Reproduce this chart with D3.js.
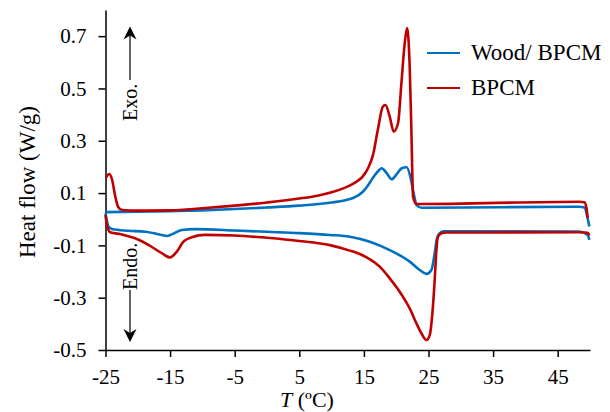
<!DOCTYPE html>
<html>
<head>
<meta charset="utf-8">
<script src="https://cdn.jsdelivr.net/npm/d3@7"></script>
<style>
  body { margin: 0; background: #fff; }
  svg { font-family: "Liberation Serif", "Times New Roman", serif; }
</style>
</head>
<body>
<div id="chart"></div>
<script>
// DSC curves: [T (ºC), heat flow (W/g)]
let woodCool = [
  [-25, 0.027], [-20, 0.029], [-15, 0.031], [-10, 0.034], [-5, 0.039], [0, 0.045],
  [5, 0.052], [8, 0.058], [10, 0.064], [12, 0.072], [13.5, 0.083], [14.8, 0.104],
  [15.6, 0.128], [16.3, 0.155], [17.0, 0.178], [17.76, 0.195], [18.53, 0.176],
  [19.3, 0.153], [20.07, 0.172], [20.85, 0.195], [21.62, 0.199], [22.19, 0.163],
  [22.7, 0.099], [23.17, 0.054], [23.94, 0.044], [48.36, 0.048], [49.13, 0.045],
  [49.64, 0.004], [49.9, -0.028]
]
let woodHeat = [
  [-25, 0.022], [-24.54, -0.028], [-24.01, -0.037], [-21.45, -0.044], [-18.86, -0.048],
  [-16.28, -0.06], [-15.51, -0.064], [-14.74, -0.058], [-13.19, -0.041], [-11.14, -0.038],
  [-5, -0.043], [0, -0.048], [5, -0.053], [9.73, -0.06], [12.82, -0.067], [15.91, -0.086],
  [19.0, -0.118], [22.09, -0.162], [23.64, -0.194], [24.68, -0.209], [25.45, -0.194],
  [25.96, -0.13], [26.31, -0.073], [26.73, -0.054], [27.24, -0.046],
  [48.36, -0.047], [49.64, -0.06], [49.9, -0.079]
]
let bpcmCool = [
  [-24.94, 0.158], [-24.43, 0.173], [-23.97, 0.15], [-23.5, 0.089], [-23.04, 0.047],
  [-22.42, 0.035], [-20, 0.033], [-15, 0.034], [-10, 0.042], [-5, 0.052], [0, 0.064],
  [5, 0.079], [8, 0.091], [10, 0.103], [12, 0.12], [13.5, 0.138], [14.8, 0.163],
  [15.7, 0.198], [16.4, 0.245], [17.15, 0.341], [17.92, 0.43], [18.34, 0.437],
  [19.0, 0.392], [19.62, 0.335], [20.29, 0.368], [20.81, 0.521], [21.32, 0.673],
  [21.68, 0.731], [22.09, 0.583], [22.36, 0.33], [22.61, 0.086], [23.13, 0.058],
  [48.36, 0.067], [49.13, 0.065], [49.44, 0.045], [49.64, 0.004]
]
let bpcmHeat = [
  [-25, 0.016], [-24.78, -0.022], [-24.27, -0.05], [-22.47, -0.058], [-20.41, -0.073],
  [-18.35, -0.098], [-16.28, -0.13], [-15.0, -0.146], [-13.96, -0.124], [-12.94, -0.086],
  [-11.65, -0.069], [-9.59, -0.06], [-5, -0.062], [0, -0.071], [5, -0.083],
  [9.73, -0.099], [12.82, -0.12], [14.37, -0.133], [15.91, -0.153], [17.45, -0.181],
  [19.0, -0.226], [20.54, -0.277], [22.09, -0.341], [23.13, -0.398], [23.9, -0.436],
  [24.68, -0.462], [25.19, -0.443], [25.6, -0.36], [25.96, -0.232], [26.22, -0.118],
  [26.47, -0.067], [26.99, -0.054], [27.77, -0.051], [48.36, -0.05],
  [49.64, -0.052], [49.9, -0.062]
]

let xTicks = [-25, -15, -5, 5, 15, 25, 35, 45]
let yTicks = [0.7, 0.5, 0.3, 0.1, -0.1, -0.3, -0.5]
let seriesNames = ['Wood/ BPCM', 'BPCM']
let seriesColors = ['#0070c0', '#c00000']

let W = 610, H = 412

let svg = d3.select('#chart')
  .append('svg')
  .attr('width', W)
  .attr('height', H)
  .attr('xmlns', 'http://www.w3.org/2000/svg')

let x = d3.scaleLinear().domain([-25, 50]).range([105.5, 590])
let y = d3.scaleLinear().domain([-0.5, 0.8]).range([350, 10])

// axes
svg.append('g')
  .attr('transform', 'translate(0,350)')
  .call(d3.axisBottom(x).tickValues(xTicks).tickSize(7).tickSizeOuter(0).tickPadding(12)
    .tickFormat(d => String(d)))
svg.append('g')
  .attr('transform', 'translate(105.5,0)')
  .call(d3.axisLeft(y).tickValues(yTicks).tickSize(7).tickSizeOuter(0).tickPadding(12)
    .tickFormat(d => d.toFixed(1)))

svg.selectAll('.domain, .tick line').attr('stroke', '#000').attr('stroke-width', 1.5)
svg.selectAll('.tick text')
  .attr('fill', '#000')
  .style('font-family', '"Liberation Serif", serif')
  .style('font-size', '21px')

// curves
let line = d3.line()
  .x(d => x(d[0]))
  .y(d => y(d[1]))
  .curve(d3.curveMonotoneX)

let curves = [
  { data: woodHeat, color: seriesColors[0] },
  { data: woodCool, color: seriesColors[0] },
  { data: bpcmHeat, color: seriesColors[1] },
  { data: bpcmCool, color: seriesColors[1] }
]
svg.selectAll('.curve')
  .data(curves)
  .enter().append('path')
  .attr('class', 'curve')
  .attr('d', d => line(d.data))
  .attr('fill', 'none')
  .attr('stroke', d => d.color)
  .attr('stroke-width', 2.6)
  .attr('stroke-linejoin', 'round')

// axis titles
svg.append('text')
  .attr('transform', 'translate(35,182) rotate(-90)')
  .attr('text-anchor', 'middle')
  .style('font-size', '23px')
  .text('Heat flow (W/g)')

let xt = svg.append('text')
  .attr('x', 307)
  .attr('y', 407)
  .attr('text-anchor', 'middle')
  .style('font-size', '22px')
xt.append('tspan').style('font-style', 'italic').text('T')
xt.append('tspan').text(' (ºC)')

// legend
let legend = svg.selectAll('.legend')
  .data(seriesNames)
  .enter().append('g')
  .attr('class', 'legend')
  .attr('transform', (d, i) => `translate(427,${53 + i * 35})`)
legend.append('line')
  .attr('x1', 0).attr('x2', 33)
  .attr('stroke', (d, i) => seriesColors[i])
  .attr('stroke-width', 2.2)
legend.append('text')
  .attr('x', 44)
  .attr('y', 7)
  .style('font-size', '23px')
  .text(d => d)

// Exo. / Endo. arrows
function arrowHead(tx, ty, dir) {
  // dir = -1 points up, 1 points down
  let p = [[0, 0], [-6.5, -13 * dir], [0, -9 * dir], [6.5, -13 * dir]]
  svg.append('path')
    .attr('d', 'M' + p.map(q => (tx + q[0]) + ',' + (ty + q[1])).join('L') + 'Z')
    .attr('fill', '#000')
}
svg.append('line').attr('x1', 130).attr('x2', 130).attr('y1', 34).attr('y2', 80)
  .attr('stroke', '#000').attr('stroke-width', 1.2)
arrowHead(130, 26.5, -1)
svg.append('text')
  .attr('transform', 'translate(136.5,121) rotate(-90)')
  .style('font-size', '20px')
  .text('Exo.')

svg.append('line').attr('x1', 130).attr('x2', 130).attr('y1', 290).attr('y2', 335)
  .attr('stroke', '#000').attr('stroke-width', 1.2)
arrowHead(130, 342, 1)
svg.append('text')
  .attr('transform', 'translate(136.5,290) rotate(-90)')
  .style('font-size', '20px')
  .text('Endo.')
</script>
</body>
</html>
